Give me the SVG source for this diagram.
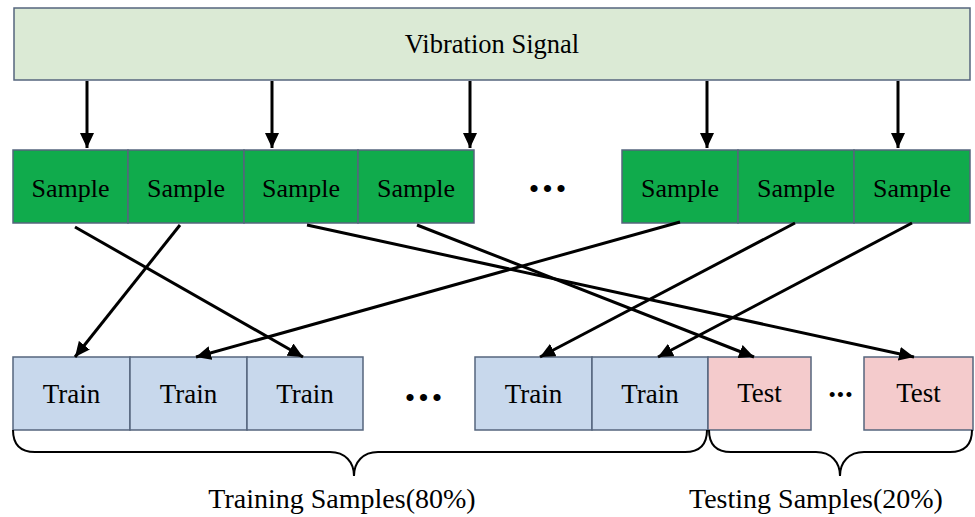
<svg xmlns="http://www.w3.org/2000/svg" width="975" height="517" viewBox="0 0 975 517">
<style>
.box{stroke:#56657d;stroke-width:1.5}
.sig{fill:#dbead5}
.smp{fill:#10ab4c}
.trn{fill:#c8d8ec}
.tst{fill:#f4cbcc}
.t{font-family:"Liberation Serif","Times New Roman",serif;fill:#000;text-anchor:middle}
.ts{font-size:26px}
.tt{font-size:27px}
.lbl{font-size:28px}
.con{stroke:#000;stroke-width:3;fill:none;marker-end:url(#ah)}
.brace{stroke:#000;stroke-width:2;fill:none}
</style>
<defs>
<marker id="ah" markerUnits="userSpaceOnUse" markerWidth="16" markerHeight="14" refX="15" refY="7" orient="auto">
<path d="M0,0 L15,7 L0,14 z" fill="#000"/>
</marker>
</defs>
<rect width="975" height="517" fill="#fff"/>
<g id="signal">
<rect class="box sig" x="14" y="8" width="956" height="72"/>
<text class="t" x="492" y="53" font-size="26.5">Vibration Signal</text>
</g>
<g id="samples">
<g id="s1"><rect class="box smp" x="13" y="150" width="115" height="73"/><text class="t ts" x="70.5" y="197">Sample</text></g>
<g id="s2"><rect class="box smp" x="128" y="150" width="116" height="73"/><text class="t ts" x="186" y="197">Sample</text></g>
<g id="s3"><rect class="box smp" x="244" y="150" width="114" height="73"/><text class="t ts" x="301" y="197">Sample</text></g>
<g id="s4"><rect class="box smp" x="358" y="150" width="116" height="73"/><text class="t ts" x="416" y="197">Sample</text></g>
<g id="s5"><rect class="box smp" x="622" y="150" width="116" height="73"/><text class="t ts" x="680" y="197">Sample</text></g>
<g id="s6"><rect class="box smp" x="738" y="150" width="116" height="73"/><text class="t ts" x="796" y="197">Sample</text></g>
<g id="s7"><rect class="box smp" x="854" y="150" width="116" height="73"/><text class="t ts" x="912" y="197">Sample</text></g>
<text class="t" x="549" y="199" font-size="30" letter-spacing="3">•••</text>
</g>
<g id="sets">
<g id="tr1"><rect class="box trn" x="13" y="357" width="117" height="73"/><text class="t tt" x="71.5" y="403">Train</text></g>
<g id="tr2"><rect class="box trn" x="130" y="357" width="117" height="73"/><text class="t tt" x="188.5" y="403">Train</text></g>
<g id="tr3"><rect class="box trn" x="247" y="357" width="116" height="73"/><text class="t tt" x="305" y="403">Train</text></g>
<g id="tr4"><rect class="box trn" x="475" y="357" width="117" height="73"/><text class="t tt" x="533.5" y="403">Train</text></g>
<g id="tr5"><rect class="box trn" x="592" y="357" width="116" height="73"/><text class="t tt" x="650" y="403">Train</text></g>
<g id="te1"><rect class="box tst" x="708" y="357" width="103" height="73"/><text class="t tt" x="759.5" y="402">Test</text></g>
<g id="te2"><rect class="box tst" x="864" y="357" width="109" height="73"/><text class="t tt" x="918.5" y="402">Test</text></g>
<text class="t" x="425" y="408" font-size="30" letter-spacing="3">•••</text>
<text class="t" x="841" y="402" font-size="21" letter-spacing="1">•••</text>
</g>
<g id="connectors">
<line class="con" x1="87" y1="81" x2="87" y2="148"/>
<line class="con" x1="272" y1="81" x2="272" y2="148"/>
<line class="con" x1="470" y1="81" x2="470" y2="148"/>
<line class="con" x1="707" y1="81" x2="707" y2="148"/>
<line class="con" x1="898" y1="81" x2="898" y2="148"/>
<line class="con" x1="75" y1="227" x2="303" y2="357"/>
<line class="con" x1="180" y1="225" x2="75" y2="357"/>
<line class="con" x1="307" y1="225" x2="914" y2="357"/>
<line class="con" x1="417" y1="225" x2="754" y2="357"/>
<line class="con" x1="680" y1="222" x2="196" y2="357"/>
<line class="con" x1="795" y1="223" x2="540" y2="357"/>
<line class="con" x1="912" y1="223" x2="658" y2="357"/>
</g>
<g id="braces">
<path class="brace" d="M13,430 C13,445 20,452 35,452 H330 C345,452 354,462 354,476 C354,462 363,452 378,452 H685 C700,452 707,445 707,430"/>
<path class="brace" d="M709,430 C709,445 716,452 731,452 H816 C831,452 840,462 840,476 C840,462 849,452 864,452 H950 C965,452 972,445 972,430"/>
<text class="t lbl" x="342" y="508">Training Samples(80%)</text>
<text class="t lbl" x="816" y="508">Testing Samples(20%)</text>
</g>
</svg>
